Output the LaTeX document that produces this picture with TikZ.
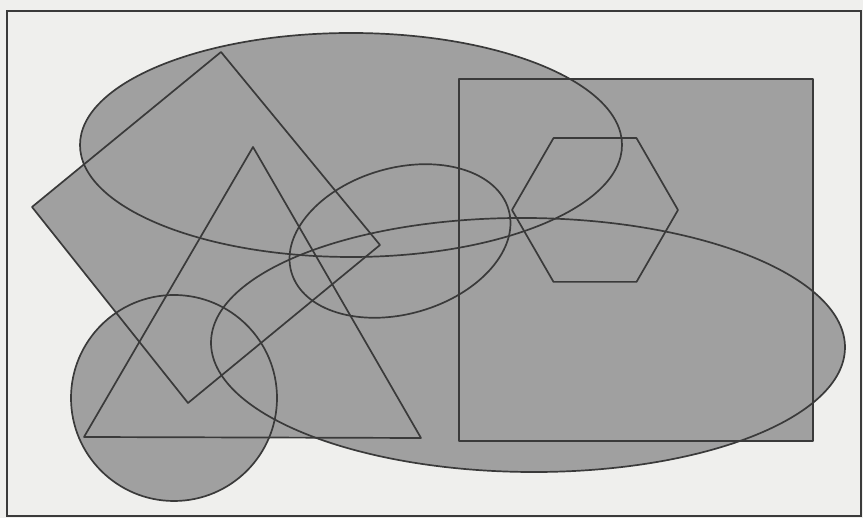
\documentclass[tikz,border=0pt]{standalone}
\usetikzlibrary{shapes.geometric}
\definecolor{bgc}{RGB}{239,239,237}
\definecolor{shapec}{RGB}{160,160,160}
\definecolor{linec}{RGB}{58,58,58}
\tikzset{
  shapefill/.style={fill=shapec},
  shapeline/.style={draw=linec, line width=1.7pt, line join=round},
  framebox/.style={draw=linec, line width=1.6pt}
}
\begin{document}
\begin{tikzpicture}[x=1pt,y=1pt]
\useasboundingbox (0,0) rectangle (863,518);
\fill[bgc] (0,0) rectangle (863,518);
\draw[framebox] (7,2) rectangle (861,507);
% fills
\fill[shapefill] (351,373) ellipse [x radius=271, y radius=112];
\fill[shapefill] (32,311) -- (221,466) -- (380,273) -- (188,115) -- cycle;
\fill[shapefill] (253,371) -- (84,81) -- (421,80) -- cycle;
\fill[shapefill] (459,439) rectangle (813,77);
\fill[shapefill] (678,308) -- (636.5,379.9) -- (553.5,379.9) -- (512,308) -- (553.5,236.1) -- (636.5,236.1) -- cycle;
\fill[shapefill, rotate around={16:(400,277)}] (400,277) ellipse [x radius=113, y radius=73];
\fill[shapefill, rotate around={-0.5:(528,173)}] (528,173) ellipse [x radius=317, y radius=127];
\fill[shapefill] (174,120) circle [radius=103];
% outlines
\draw[shapeline] (351,373) ellipse [x radius=271, y radius=112];
\draw[shapeline] (32,311) -- (221,466) -- (380,273) -- (188,115) -- cycle;
\draw[shapeline] (253,371) -- (84,81) -- (421,80) -- cycle;
\draw[shapeline] (459,439) rectangle (813,77);
\draw[shapeline] (678,308) -- (636.5,379.9) -- (553.5,379.9) -- (512,308) -- (553.5,236.1) -- (636.5,236.1) -- cycle;
\draw[shapeline, rotate around={16:(400,277)}] (400,277) ellipse [x radius=113, y radius=73];
\draw[shapeline, rotate around={-0.5:(528,173)}] (528,173) ellipse [x radius=317, y radius=127];
\draw[shapeline] (174,120) circle [radius=103];
\end{tikzpicture}
\end{document}
